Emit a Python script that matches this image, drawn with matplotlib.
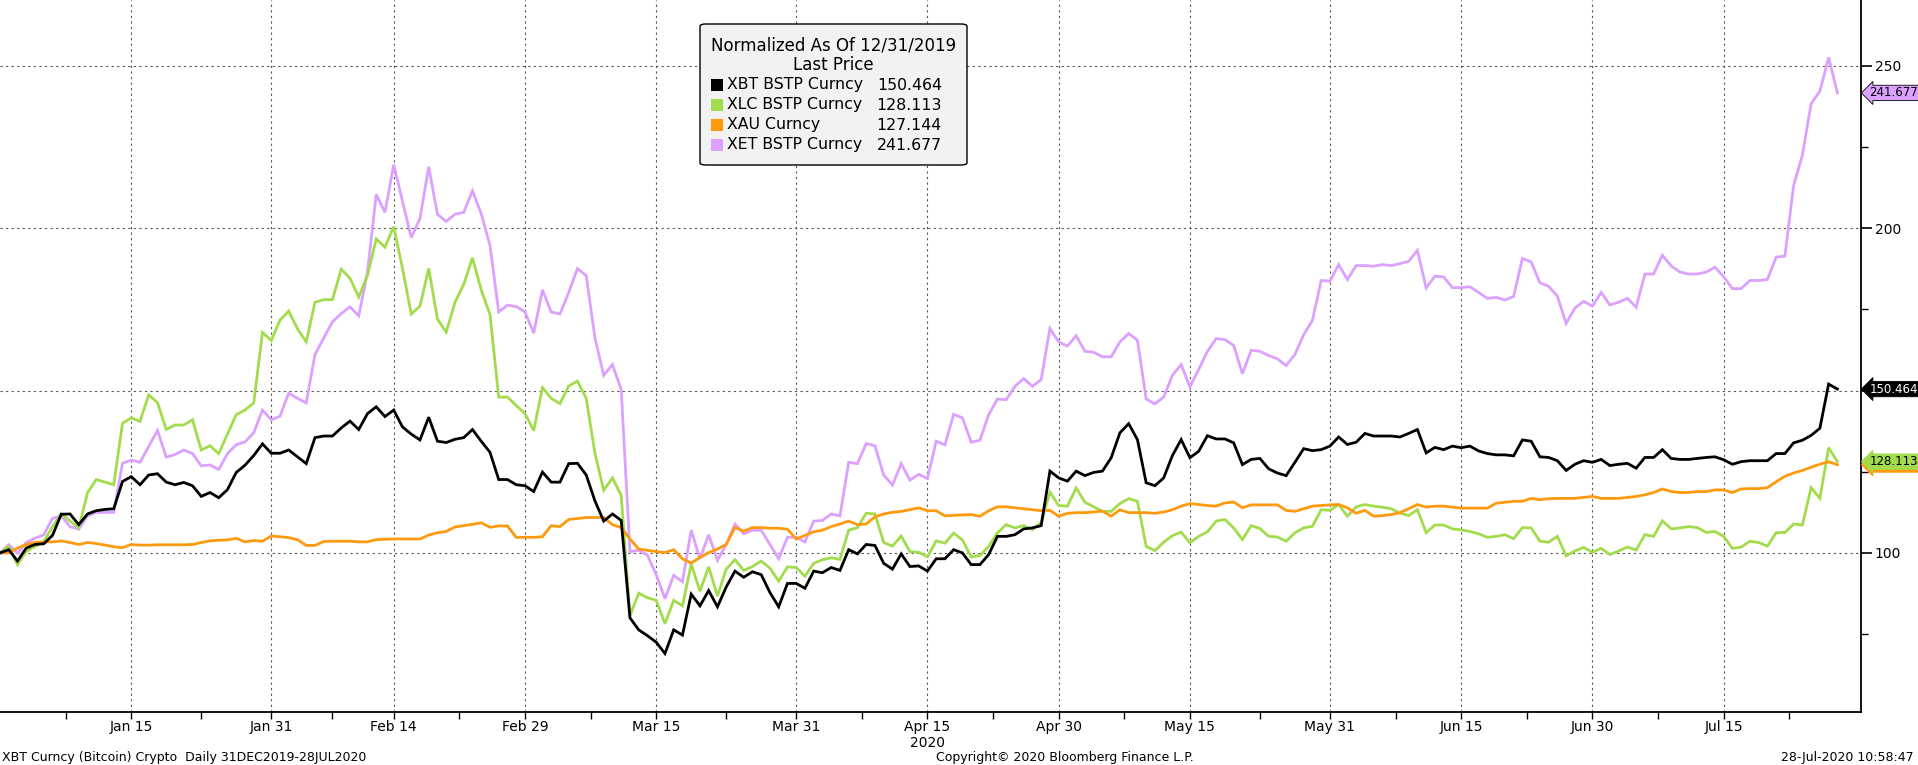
import numpy as np
import pandas as pd
import matplotlib
matplotlib.use("Agg")
import matplotlib.pyplot as plt
from matplotlib.patches import FancyBboxPatch
import matplotlib.transforms as mtransforms

start = pd.Timestamp("2019-12-31")
dates = pd.date_range("2019-12-31", "2020-07-28", freq="D")

xbt = [100,101,97.5,101.5,102.6,102.8,105.4,111.9,112,108.7,112,113,113.4,113.6,122,123.5,121,124,124.4,121.8,
       121,121.7,120.7,117.4,118.6,117,119.5,124.8,127,130,133.6,130.7,130.7,131.7,129.6,127.5,135.5,136,136,138.5,
       140.6,138,142.9,145,142,144,138.8,136.6,134.8,141.8,134.4,134,135,135.5,138,134.4,
       131,122.6,122.6,121,120.7,118.9,124.9,121.8,121.8,127.5,127.6,124,116,109.8,112,110,80,76.3,74.5,72.5,
       69,76.3,74.7,87.3,83.7,88.4,83.4,89.5,94.4,92.5,94.2,93.3,87.8,83.4,90.6,90.6,89.1,94.4,93.9,95.5,
       94.6,101,99.7,102.6,102.3,96.8,95,99.7,95.8,96,94.4,98.2,98.2,101,100,
       96.4,96.4,99.5,105.1,105.1,105.6,107.4,107.7,108.4,125.2,123.1,122.1,125.2,123.8,124.8,125.2,129.3,137,139.8,134.9,
       121.6,120.7,123.1,130,134.9,129.3,131.3,136.1,135.1,135.1,133.9,127.2,128.8,129.1,125.9,124.6,123.8,127.9,132.1,131.5,
       131.8,132.9,135.7,133.4,134.1,136.8,136,136,136,135.7,136.8,138,130.8,132.5,131.8,
       132.9,132.4,132.9,131.4,130.6,130.2,130.2,129.9,134.8,134.4,129.6,129.4,128.4,125.4,127.3,128.4,127.9,128.8,126.9,127.3,
       127.6,126.1,129.4,129.4,131.8,129.1,128.8,128.8,129.1,129.4,129.6,128.7,127.3,128.1,128.4,128.4,128.4,130.6,130.6,133.9,
       134.7,136.2,138.4,152,150.464]
xlc = [100,102,96.4,100.5,102,103.5,108,112.2,109.8,107.7,118.5,122.6,121.8,121,139.9,141.6,140.5,148.7,146.3,138,
       139.4,139.4,141,131.7,133,130.6,136.6,142.6,144,146.2,167.9,165.4,171.7,174.5,169,165,177.2,178,178,187.4,
       184.6,178.8,185.4,196.7,194.2,200.5,187.6,173.6,176,187.6,172,168,177.2,182.7,190.9,181,
       173.4,148,148,145.4,142.9,137.7,150.9,147.6,146,151.4,152.9,147.6,130.6,119.3,123.1,117.7,80.7,87.6,86.2,85.4,
       78.2,85.4,83.7,96.6,88.2,95.7,86.7,95,97.9,94.6,95.8,97.5,95.3,91.3,95.7,95.5,92.8,96.8,97.9,98.5,
       98,107,107.8,112.2,112,103.2,102.1,105.2,100.4,100.2,98.8,103.7,103,106.1,104,
       98.8,99.2,102,106.2,108.7,107.7,108.4,107.2,109.4,118.7,114.6,114.4,120,115.6,114.2,112.8,112.8,115.2,116.7,115.9,
       102,100.7,103.3,105.3,106.4,103.1,105.1,106.5,109.8,110.3,107.7,104.1,108.4,107.5,105.1,104.9,103.6,106.2,107.7,108.2,
       113.3,113.1,114.9,111.3,114.2,114.9,114.4,114.1,113.6,112.3,111.5,113.3,106.2,108.6,108.6,
       107.4,107.1,106.6,105.9,104.8,105.1,105.6,104.4,107.8,107.7,103.6,103.3,105.1,99.1,100.6,101.7,100.2,101.4,99.5,100.6,
       101.8,100.9,105.6,105.1,109.9,107.4,107.7,108.1,107.8,106.3,106.6,105.1,101.4,101.8,103.6,103.2,102.1,106.2,106.3,108.9,
       108.6,120.1,116.8,132.4,128.113]
xau = [100,100,101.5,102.6,103.2,103.4,103.4,103.7,103.2,102.6,103.2,102.9,102.4,101.9,101.6,102.6,102.4,102.4,102.5,102.5,
       102.5,102.5,102.6,103.2,103.7,103.9,104,104.5,103.4,103.8,103.6,105.2,105,104.7,104.1,102.3,102.3,103.5,103.6,103.6,
       103.6,103.4,103.4,104.1,104.2,104.3,104.3,104.3,104.3,105.5,106.2,106.6,108,108.4,108.8,109.3,
       107.9,108.3,108.3,104.8,104.8,104.8,105,108.4,108.1,110.3,110.6,110.9,110.9,110.9,108.7,107.8,104.3,101.2,100.8,100.4,
       100.1,101,98.2,96.9,98.6,100.1,101.2,102.6,107.8,106.7,107.8,107.8,107.6,107.6,107.3,104.3,105.4,106.5,107,108.1,
       108.9,109.8,108.7,108.9,111.1,112,112.5,112.8,113.3,113.9,113,113,111.4,111.6,111.7,
       111.8,111.3,113,114.2,114.2,113.9,113.6,113.3,113,113.1,111.3,112.2,112.4,112.4,112.6,112.9,111.3,113.3,112.4,112.4,
       112.4,112.2,112.6,113.3,114.4,115.2,114.9,114.6,114.4,115.4,115.7,113.9,114.8,114.8,114.8,114.8,113.1,112.8,113.6,114.4,
       114.6,114.8,114.9,113.9,112.2,113.1,111.3,111.5,111.8,112.4,113.6,114.9,114.1,114.4,114.4,
       114.1,113.8,113.8,113.8,113.8,115.3,115.6,115.9,115.9,116.8,116.4,116.7,116.8,116.8,116.8,117.1,117.4,116.8,116.8,116.8,
       117.1,117.4,117.9,118.6,119.7,118.9,118.6,118.6,118.9,118.9,119.4,119.4,118.6,119.7,119.8,119.8,120.1,121.9,123.6,124.6,
       125.4,126.4,127.3,128.1,127.144]
xet = [100,102.5,99.9,103.2,104.5,105.6,110.6,111.4,108.1,107.3,111.4,112.5,112.5,112.5,127.6,128.6,127.9,132.8,137.7,129.5,
       130.3,131.7,130.6,126.8,127.1,125.7,130.6,133.3,134.2,137,144,141,142.1,149.2,147.6,146.2,161.1,166.2,171.2,173.7,
       175.8,173,186.5,210.4,204.9,219.6,208.4,197.1,203,218.9,204.3,202.1,204.3,204.9,211.5,204.5,
       194.7,174.2,176.3,175.9,174.2,167.7,181,174.2,173.6,180.2,187.6,185.4,166.2,154.7,158,150.3,100.4,100.8,99.3,93.3,
       85.9,93.1,91.1,107,98.2,105.6,97.7,102.6,108.9,105.9,107,107,102.6,98.2,104.8,104.8,103.4,109.8,110,112,
       111.4,127.9,127.5,133.7,133,124,120.9,127.5,122.4,124.2,122.9,134.4,133.3,142.7,141.6,
       134.1,134.7,142.6,147.4,147.2,151.3,153.7,151.3,153.4,169.1,165,163.7,166.9,162.1,161.8,160.4,160.4,165,167.6,165.5,
       147.4,145.9,148,154.7,158,151.1,156.5,162.1,166,165.7,163.9,155.2,162.4,162.1,160.8,159.8,157.7,161.1,167.2,171.6,
       183.9,183.7,188.8,184.2,188.5,188.5,188.3,188.8,188.5,189.1,189.8,193.2,181.6,185.2,185,
       181.7,181.7,182,180.2,178.4,178.7,177.9,179,190.7,189.6,183.2,182.1,179.1,170.7,175.4,177.5,176,180.2,176.4,177.2,
       178.4,175.7,185.9,185.9,191.7,188.4,186.5,185.9,185.9,186.5,188,185.1,181.4,181.4,183.9,183.9,184.2,191.1,191.4,213.2,
       222.5,238.4,242.2,252.6,241.677]

series_names = ["XBT BSTP Curncy", "XLC BSTP Curncy", "XAU Curncy", "XET BSTP Curncy"]
last_labels = ["150.464", "128.113", "127.144", "241.677"]
tick_dates = ["2020-01-15","2020-01-31","2020-02-14","2020-02-29","2020-03-15","2020-03-31","2020-04-15",
              "2020-04-30","2020-05-15","2020-05-31","2020-06-15","2020-06-30","2020-07-15"]
tick_labels = ["Jan 15","Jan 31","Feb 14","Feb 29","Mar 15","Mar 31","Apr 15","Apr 30","May 15","May 31",
               "Jun 15","Jun 30","Jul 15"]
y_ticks = [100, 150, 200, 250]
y_tick_labels = ["100", "", "200", "250"]

colors = ["#000000", "#a2dc4c", "#ff9a0e", "#dca0ff"]
FONT = "DejaVu Sans"

fig = plt.figure(figsize=(19.18, 7.65), dpi=100)
ax = fig.add_axes([0.0, 1 - 712/765, 1861/1918, 712/765])
x = (dates - start).days.values
data = [xbt, xlc, xau, xet]
for i in [3, 1, 2, 0]:
    ax.plot(x, data[i], color=colors[i], lw=2.0, solid_joinstyle="miter", zorder=3 + (i == 0))

ax.set_xlim(0, 212.7)
ax.set_ylim(51.0, 270.3)
tpos = [(pd.Timestamp(d) - start).days for d in tick_dates]
ax.set_xticks(tpos)
ax.set_xticklabels(tick_labels, fontsize=10, family=FONT)
ax.set_xticks([(a + b) / 2 for a, b in zip([0] + tpos, tpos + [tpos[-1] + 15])], minor=True)
ax.yaxis.tick_right()
ax.set_yticks(y_ticks)
ax.set_yticklabels(y_tick_labels, fontsize=10, family=FONT)
ax.set_yticks([75, 125, 175, 225], minor=True)
ax.tick_params(axis="y", which="major", direction="out", length=8, width=1.2, pad=2)
ax.tick_params(axis="y", which="minor", direction="out", length=5, width=1)
ax.tick_params(axis="x", which="both", direction="out", length=5, width=1, pad=1)
ax.grid(True, which="major", color="#555555", linestyle=(0, (2, 3)), lw=0.8)
for s in ["top", "left"]:
    ax.spines[s].set_visible(False)
ax.spines["right"].set_linewidth(1.3)
ax.spines["bottom"].set_linewidth(1.3)

# value tags
trans = mtransforms.blended_transform_factory(ax.transAxes, ax.transData)
tag_text_col = ["white", "black", "black", "black"]
for i in [2, 1, 0, 3]:
    yv = data[i][-1] if i != 2 else data[1][-1] - 0.9
    txt = last_labels[i] if i != 2 else last_labels[1]
    ax.text(1.0045, yv, txt, transform=trans, fontsize=8.5, family=FONT,
            color=tag_text_col[i], va="center", ha="left", clip_on=False, zorder=10,
            bbox=dict(boxstyle="larrow,pad=0.1", fc=colors[i], ec="black" if i in (0, 3) else colors[i], lw=0.6))

# legend box
lx0, ly0, lw_, lh = 700/1918, 1 - 165/765, 267/1918, 141/765
fig.patches.append(FancyBboxPatch((lx0, ly0), lw_, lh, boxstyle="round,pad=0,rounding_size=0.003",
                                  transform=fig.transFigure, fc="#f2f2f2", ec="black", lw=1, zorder=20))
cx = lx0 + lw_ / 2
fig.text(cx, 1 - 45/765, "Normalized As Of 12/31/2019", ha="center", va="center", fontsize=12, family=FONT, zorder=21)
fig.text(cx, 1 - 65/765, "Last Price", ha="center", va="center", fontsize=12, family=FONT, zorder=21)
for k in range(4):
    yy = 1 - (85 + k * 20) / 765
    fig.patches.append(plt.Rectangle((711/1918, yy - 6/765), 12/1918, 12/765, transform=fig.transFigure,
                                     fc=colors[k], ec="none", zorder=21))
    fig.text(727/1918, yy, series_names[k], ha="left", va="center", fontsize=11.3, family=FONT, zorder=21)
    fig.text(942/1918, yy, last_labels[k], ha="right", va="center", fontsize=11.3, family=FONT, zorder=21)

fig.text((pd.Timestamp("2020-04-15") - start).days / 212.7 * (1861/1918), 1 - 743/765, "2020",
         ha="center", va="center", fontsize=10, family=FONT)
fig.text(2/1918, 1 - 758/765, "XBT Curncy (Bitcoin) Crypto  Daily 31DEC2019-28JUL2020", ha="left", va="center",
         fontsize=9, family=FONT)
fig.text(1065/1918, 1 - 758/765, "Copyright\u00a9 2020 Bloomberg Finance L.P.", ha="center", va="center",
         fontsize=9, family=FONT)
fig.text(1914/1918, 1 - 758/765, "28-Jul-2020 10:58:47", ha="right", va="center", fontsize=9, family=FONT)

fig.savefig("out.png", dpi=100)
